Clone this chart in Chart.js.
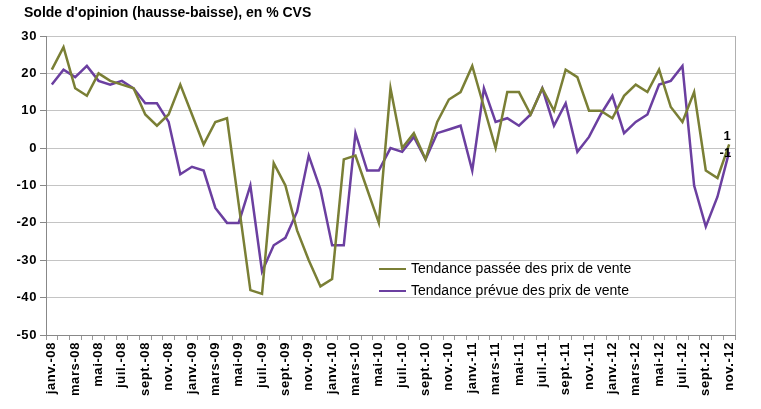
<!DOCTYPE html>
<html>
<head>
<meta charset="utf-8">
<script src="https://cdn.jsdelivr.net/npm/chart.js@4"></script>
<style>
  body { margin: 0; background: #fff; }
  #wrap { width: 761px; height: 409px; position: relative; }
</style>
</head>
<body>
<div id="wrap"><canvas id="myChart"></canvas></div>
<script>
var years = ['08', '09', '10', '11', '12'];
var monthNames = ['janv.', 'févr.', 'mars', 'avr.', 'mai', 'juin', 'juil.', 'août', 'sept.', 'oct.', 'nov.', 'déc.'];

var tendancePassee = [21, 27, 16, 14, 20, 18, 17, 16, 9, 6, 9, 17,
                      9, 1, 7, 8, -15, -38, -39, -4, -10, -22, -30, -37,
                      -35, -3, -2, -11, -20, 16, 0, 4, -3, 7, 13, 15,
                      22, 11, 0, 15, 15, 9, 16, 10, 21, 19, 10, 10,
                      8, 14, 17, 15, 21, 11, 7, 15, -6, -8, 1];
var tendancePrevue = [17, 21, 19, 22, 18, 17, 18, 16, 12, 12, 7, -7,
                      -5, -6, -16, -20, -20, -10, -33, -26, -24, -17, -2, -11,
                      -26, -26, 4, -6, -6, 0, -1, 3, -3, 4, 5, 6,
                      -6, 16, 7, 8, 6, 9, 16, 6, 12, -1, 3, 9,
                      14, 4, 7, 9, 17, 18, 22, -10, -21, -13, -1];
var yTicks = [30, 20, 10, 0, -10, -20, -30, -40, -50];

var labels = [];
for (var y = 0; y < years.length; y++) {
    for (var m = 0; m < 12; m++) {
        if (labels.length < tendancePassee.length) {
            labels.push(monthNames[m] + '-' + years[y]);
        }
    }
}

var olive = '#7a7f35';
var purple = '#6b3fa0';
var font = 'Liberation Sans, Arial, sans-serif';

var decorPlugin = {
    id: 'decor',
    beforeDraw: function(chart) {
        var ctx = chart.ctx;
        ctx.save();
        ctx.fillStyle = '#fff';
        ctx.fillRect(0, 0, chart.width, chart.height);
        ctx.restore();
        // excel-like spaced axis labels
        ctx.letterSpacing = '0.6px';
    },
    beforeDatasetsDraw: function(chart) {
        chart.ctx.letterSpacing = '0px';
    },
    afterDraw: function(chart) {
        var ctx = chart.ctx;
        var area = chart.chartArea;
        ctx.save();
        ctx.letterSpacing = '0px';
        // right border
        ctx.strokeStyle = '#b0b0b0';
        ctx.lineWidth = 1;
        ctx.beginPath();
        ctx.moveTo(Math.round(area.right) + 0.5, area.top);
        ctx.lineTo(Math.round(area.right) + 0.5, area.bottom);
        ctx.stroke();

        // title
        ctx.fillStyle = '#000';
        ctx.font = 'bold 14px ' + font;
        ctx.textBaseline = 'middle';
        ctx.textAlign = 'left';
        ctx.fillText("Solde d'opinion (hausse-baisse), en % CVS", 24, 13);

        // legend box
        var lx = 376, ly = 261, lw = 262, lh = 36;
        ctx.fillStyle = '#fff';
        ctx.fillRect(lx, ly, lw, lh);
        var items = [[chart.data.datasets[0], 269], [chart.data.datasets[1], 291]];
        ctx.font = '14px ' + font;
        for (var i = 0; i < items.length; i++) {
            ctx.strokeStyle = items[i][0].borderColor;
            ctx.lineWidth = 2;
            ctx.beginPath();
            ctx.moveTo(379, items[i][1]);
            ctx.lineTo(406, items[i][1]);
            ctx.stroke();
            ctx.fillStyle = '#000';
            ctx.fillText(items[i][0].label, 411, items[i][1]);
        }

        // last value labels
        var n = tendancePassee.length - 1;
        var p1 = chart.getDatasetMeta(0).data[n];
        var p2 = chart.getDatasetMeta(1).data[n];
        ctx.font = 'bold 13px ' + font;
        ctx.textAlign = 'center';
        ctx.fillText(String(tendancePassee[n]), p1.x - 2, p1.y - 8);
        ctx.textAlign = 'right';
        ctx.fillText(String(tendancePrevue[n]), p2.x + 2, p2.y + 2);
        ctx.restore();
    }
};

var ctx = document.getElementById('myChart');
var chart = new Chart(ctx, {
    type: 'line',
    data: {
        labels: labels,
        datasets: [{
            label: 'Tendance passée des prix de vente',
            data: tendancePassee,
            borderColor: olive,
            borderWidth: 2.5,
            pointRadius: 0,
            tension: 0
        }, {
            label: 'Tendance prévue des prix de vente',
            data: tendancePrevue,
            borderColor: purple,
            borderWidth: 2.5,
            pointRadius: 0,
            tension: 0
        }]
    },
    options: {
        responsive: true,
        maintainAspectRatio: false,
        animation: false,
        layout: { padding: { left: 0, right: 26, top: 36, bottom: 0 } },
        plugins: {
            legend: { display: false },
            tooltip: { enabled: false }
        },
        scales: {
            x: {
                offset: true,
                grid: {
                    offset: true,
                    drawOnChartArea: false,
                    drawTicks: true,
                    tickLength: 5,
                    color: '#999'
                },
                border: { color: '#888' },
                ticks: {
                    autoSkip: false,
                    maxRotation: 90,
                    minRotation: 90,
                    padding: 2,
                    color: '#000',
                    font: { family: font, size: 13, weight: 'bold' },
                    callback: function(value, index) {
                        return index % 2 === 0 ? labels[index] : '';
                    }
                },
                afterFit: function(scale) { scale.height = 74; }
            },
            y: {
                min: -50,
                max: 30,
                afterBuildTicks: function(scale) {
                    scale.ticks = yTicks.map(function(v) { return { value: v }; });
                },
                grid: {
                    color: '#c4c4c4',
                    lineWidth: 1,
                    tickLength: 6,
                    tickColor: '#888'
                },
                border: { color: '#888' },
                ticks: {
                    padding: 3,
                    color: '#000',
                    font: { family: font, size: 13, weight: 'bold' }
                },
                afterFit: function(scale) { scale.width = 46; }
            }
        }
    },
    plugins: [decorPlugin]
});
</script>
</body>
</html>
